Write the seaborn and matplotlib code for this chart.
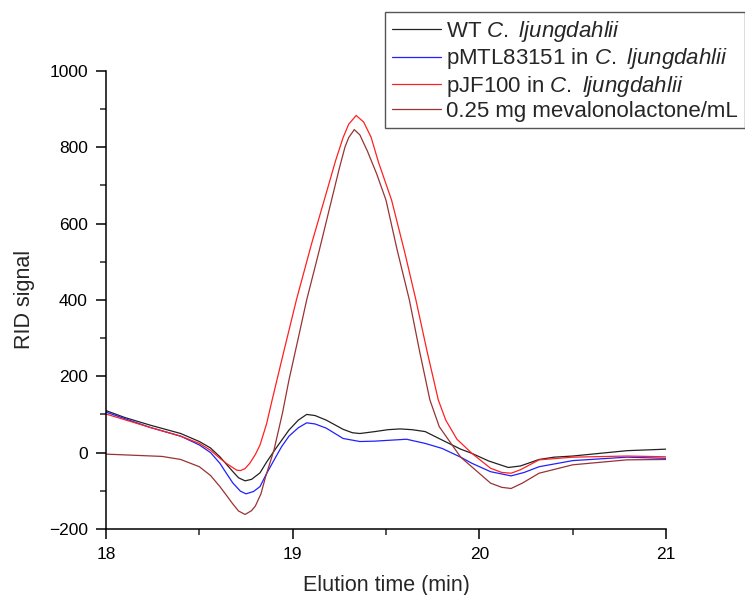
import numpy as np
import pandas as pd
import matplotlib
matplotlib.use("Agg")
import matplotlib.pyplot as plt
from matplotlib.ticker import MultipleLocator
import seaborn as sns

# ------------------ DATA ------------------
t_wt = [18.00, 18.10, 18.236, 18.40, 18.50, 18.56, 18.61, 18.68, 18.71, 18.745,
        18.78, 18.825, 18.86, 18.91, 18.98, 19.03, 19.075, 19.12, 19.18, 19.27,
        19.32, 19.36, 19.44, 19.51, 19.575, 19.64, 19.71, 19.80, 19.90, 19.96,
        20.05, 20.155, 20.22, 20.32, 20.40, 20.50, 20.79, 21.00]
v_wt = [110, 92, 72, 50, 29, 12, -11, -50, -66, -74,
        -70, -53, -25, 11, 59, 85, 100, 97, 85, 61,
        52, 50, 55, 60, 62, 60, 55, 33, 9, -2,
        -22, -39, -35, -18, -12, -9, 5, 9]

t_pmtl = [18.00, 18.236, 18.40, 18.50, 18.56, 18.61, 18.65, 18.68, 18.72, 18.75,
          18.79, 18.825, 18.86, 18.91, 18.94, 18.98, 19.03, 19.075, 19.12, 19.18,
          19.27, 19.36, 19.44, 19.61, 19.71, 19.80, 19.90, 19.96, 20.06, 20.17,
          20.24, 20.32, 20.50, 20.79, 21.00]
v_pmtl = [106, 66, 43, 20, 0, -28, -58, -80, -101, -108,
          -102, -89, -55, -11, 15, 43, 65, 78, 75, 64,
          37, 29, 30, 35, 24, 11, -12, -28, -50, -61,
          -52, -37, -21, -12, -15]

t_pjf = [18.00, 18.236, 18.40, 18.50, 18.56, 18.61, 18.65, 18.70, 18.72, 18.745,
         18.77, 18.80, 18.825, 18.86, 18.89, 18.95, 19.02, 19.10, 19.18, 19.23,
         19.27, 19.30, 19.34, 19.38, 19.42, 19.46, 19.53, 19.60, 19.66, 19.72,
         19.78, 19.82, 19.88, 19.96, 20.06, 20.12, 20.17, 20.22, 20.32, 20.50,
         20.79, 21.00]
v_pjf = [101, 66, 43, 24, 6, -15, -30, -46, -47, -42,
         -28, -5, 20, 75, 138, 260, 400, 545, 680, 765,
         825, 860, 883, 866, 826, 760, 661, 525, 400, 265,
         138, 85, 35, -2, -41, -52, -54, -45, -19, -12,
         -9, -11]

t_mev = [18.00, 18.15, 18.30, 18.40, 18.50, 18.56, 18.61, 18.65, 18.68, 18.71,
         18.745, 18.78, 18.80, 18.83, 18.855, 18.90, 18.945, 18.98, 19.03, 19.075,
         19.14, 19.21, 19.25, 19.28, 19.30, 19.33, 19.36, 19.40, 19.45, 19.50,
         19.56, 19.625, 19.68, 19.735, 19.785, 19.90, 20.06, 20.12, 20.17, 20.23,
         20.32, 20.50, 20.79, 21.00]
v_mev = [-4, -7, -10, -18, -37, -60, -89, -115, -135, -153,
         -162, -152, -140, -108, -63, 7, 103, 190, 300, 400,
         525, 665, 745, 800, 825, 846, 832, 790, 730, 661,
         530, 400, 265, 138, 68, -12, -80, -91, -94, -80,
         -54, -32, -19, -18]

labels = ["WT $\\mathit{C.\\ ljungdahlii}$",
          "pMTL83151 in $\\mathit{C.\\ ljungdahlii}$",
          "pJF100 in $\\mathit{C.\\ ljungdahlii}$",
          "0.25 mg mevalonolactone/mL"]
colors = ["#222222", "#2020ff", "#ff2020", "#993333"]

df = pd.concat([
    pd.DataFrame({"time": t_wt, "signal": v_wt, "sample": labels[0]}),
    pd.DataFrame({"time": t_pmtl, "signal": v_pmtl, "sample": labels[1]}),
    pd.DataFrame({"time": t_pjf, "signal": v_pjf, "sample": labels[2]}),
    pd.DataFrame({"time": t_mev, "signal": v_mev, "sample": labels[3]}),
], ignore_index=True)

# ------------------ PLOTTING ------------------
sns.set_style("ticks")
plt.rcParams["font.family"] = ["Liberation Sans", "DejaVu Sans"]
plt.rcParams["mathtext.fontset"] = "custom"
plt.rcParams["mathtext.rm"] = "Liberation Sans"
plt.rcParams["mathtext.it"] = "Liberation Sans:italic"

fig = plt.figure(figsize=(7.45, 5.95), dpi=100)
ax = fig.add_axes([0.1423, 0.111, 0.7517, 0.770])

sns.lineplot(data=df, x="time", y="signal", hue="sample", palette=dict(zip(labels, colors)),
             estimator=None, sort=False, linewidth=0.9, legend=False, ax=ax)

ax.set_xlim(18, 21)
ax.set_ylim(-200, 1000)
ax.xaxis.set_major_locator(MultipleLocator(1))
ax.xaxis.set_minor_locator(MultipleLocator(0.5))
ax.yaxis.set_major_locator(MultipleLocator(200))
ax.yaxis.set_minor_locator(MultipleLocator(100))
ax.tick_params(which="major", direction="out", length=7, width=1.1, pad=6, labelsize=12.5, colors="black")
ax.tick_params(which="minor", direction="out", length=4, width=1.1)
for s in ["top", "right"]:
    ax.spines[s].set_visible(False)
for s in ["left", "bottom"]:
    ax.spines[s].set_linewidth(1.1)
    ax.spines[s].set_color("black")

ax.set_xlabel("Elution time (min)", fontsize=15.5, labelpad=9)
ax.set_ylabel("RID signal", fontsize=15.5, labelpad=10)

leg = ax.legend(ax.get_lines()[:4], labels, loc="upper left",
                bbox_to_anchor=(0.517, 0.979), bbox_transform=fig.transFigure,
                fontsize=16, frameon=True, fancybox=False, framealpha=1,
                edgecolor="#555555", labelspacing=0.1, handlelength=2.2,
                handletextpad=0.25, borderpad=0.3, borderaxespad=0)
leg.get_frame().set_linewidth(1.0)

fig.savefig("out.png", dpi=100)
